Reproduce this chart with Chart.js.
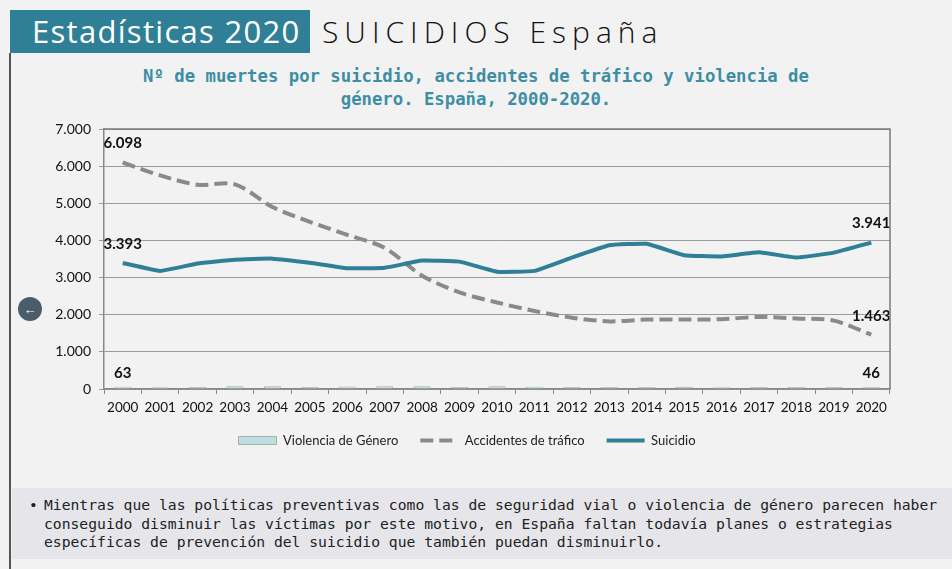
<!DOCTYPE html>
<html>
<head>
<meta charset="UTF-8">
<title>Suicidios España 2020</title>
<script src="https://cdn.jsdelivr.net/npm/chart.js"></script>
<style>
  body {
    margin: 0;
    width: 952px;
    height: 569px;
    background: #f2f2f2;
    position: relative;
    overflow: hidden;
    font-family: "Open Sans", sans-serif;
  }
  .frame {
    position: absolute;
    left: 9px;
    top: 53px;
    height: 516px;
    border-left: 2px solid #555;
  }
  .tag {
    position: absolute;
    left: 10px;
    top: 10px;
    width: 300px;
    height: 43px;
    background: #2f7f97;
    color: #fff;
    font-size: 31px;
    letter-spacing: 1.3px;
    line-height: 43px;
    padding-left: 22px;
    box-sizing: border-box;
    white-space: nowrap;
  }
  .head {
    position: absolute;
    left: 322px;
    top: 10px;
    line-height: 43px;
    font-size: 30px;
    font-weight: 300;
    letter-spacing: 6px;
    color: #111;
    white-space: nowrap;
  }
  .title {
    position: absolute;
    left: 0;
    width: 952px;
    top: 65px;
    text-align: center;
    font-family: "DejaVu Sans Mono", monospace;
    font-weight: bold;
    font-size: 17.3px;
    line-height: 23px;
    color: #3d8ea4;
  }
  #wrap {
    position: absolute;
    left: 0;
    top: 110px;
    width: 952px;
    height: 359px;
  }
  .back {
    position: absolute;
    left: 18px;
    top: 297px;
    width: 24px;
    height: 24px;
    border-radius: 50%;
    background: #4b5d6b;
    color: #fff;
    font-size: 13px;
    font-weight: bold;
    line-height: 24px;
    text-align: center;
  }
  .note {
    position: absolute;
    left: 12px;
    top: 488px;
    width: 940px;
    height: 71px;
    background: #e6e6ea;
    font-family: "DejaVu Sans Mono", monospace;
    font-size: 14.7px;
    line-height: 18.5px;
    padding: 8px 0 0 32px;
    box-sizing: border-box;
    color: #222;
  }
  .bul {
    position: absolute;
    left: 17px;
    top: 8px;
  }
</style>
</head>
<body>
<div class="frame"></div>
<div class="tag">Estadísticas 2020</div>
<div class="head">SUICIDIOS España</div>
<div class="title">Nº de muertes por suicidio, accidentes de tráfico y violencia de<br>género. España, 2000-2020.</div>

<div id="wrap"><canvas id="chart" width="952" height="359"></canvas></div>
<div class="back">&#8592;</div>

<div class="note"><span class="bul">•</span>Mientras que las políticas preventivas como las de seguridad vial o violencia de género parecen haber conseguido disminuir las víctimas por este motivo, en España faltan todavía planes o estrategias específicas de prevención del suicidio que también puedan disminuirlo.</div>

<script>
  // Data
  const years = ['2000', '2001', '2002', '2003', '2004', '2005', '2006', '2007', '2008', '2009', '2010',
                 '2011', '2012', '2013', '2014', '2015', '2016', '2017', '2018', '2019', '2020'];
  const violencia = [63, 50, 54, 71, 72, 57, 69, 71, 76, 56, 73, 62, 52, 54, 55, 60, 49, 51, 51, 56, 46];
  const accidentes = [6098, 5750, 5500, 5510, 4900, 4500, 4150, 3800, 3050, 2600, 2330,
                      2100, 1920, 1820, 1870, 1870, 1880, 1940, 1900, 1840, 1463];
  const suicidio = [3393, 3180, 3380, 3480, 3510, 3400, 3250, 3265, 3457, 3429, 3158,
                    3180, 3539, 3870, 3910, 3602, 3569, 3679, 3539, 3671, 3941];
  const yMax = 7000;
  const yStep = 1000;

  // labelled points: dataset index and category index
  const marked = [[0, 0], [0, 20], [1, 0], [1, 20], [2, 0], [2, 20]];

  function fmt(v) {
    return String(v).replace(/\B(?=(\d{3})+(?!\d))/g, '.');
  }

  const pointLabels = {
    id: 'pointLabels',
    afterDatasetsDraw(chart) {
      const ctx = chart.ctx;
      ctx.save();
      ctx.font = 'bold 15px Lato';
      ctx.fillStyle = '#111';
      ctx.textAlign = 'center';
      ctx.textBaseline = 'middle';
      marked.forEach(([d, i]) => {
        const el = chart.getDatasetMeta(d).data[i];
        const off = d === 0 ? 14 : 19;
        ctx.fillText(fmt(chart.data.datasets[d].data[i]), el.x, el.y - off);
      });
      ctx.restore();
    }
  };

  const plotBorder = {
    id: 'plotBorder',
    afterDraw(chart) {
      const a = chart.chartArea;
      const ctx = chart.ctx;
      ctx.save();
      ctx.strokeStyle = '#7a7a7a';
      ctx.lineWidth = 1.5;
      ctx.beginPath();
      ctx.moveTo(a.left, a.top);
      ctx.lineTo(a.right, a.top);
      ctx.lineTo(a.right, a.bottom);
      ctx.stroke();
      ctx.restore();
    }
  };

  const styles = ['rect', 'line', 'line'];

  new Chart(document.getElementById('chart'), {
    type: 'bar',
    data: {
      labels: years,
      datasets: [
        {
          label: 'Violencia de Género',
          data: violencia,
          backgroundColor: '#bcdde5',
          borderColor: '#a7b39d',
          borderWidth: 1,
          barPercentage: 0.45,
          categoryPercentage: 1,
          order: 3
        },
        {
          type: 'line',
          label: 'Accidentes de tráfico',
          data: accidentes,
          borderColor: '#8a8a8a',
          backgroundColor: '#8a8a8a',
          borderWidth: 4,
          borderDash: [13, 6],
          pointRadius: 0,
          tension: 0.3,
          order: 2
        },
        {
          type: 'line',
          label: 'Suicidio',
          data: suicidio,
          borderColor: '#2f7f96',
          backgroundColor: '#2f7f96',
          borderWidth: 4,
          pointRadius: 0,
          tension: 0.1,
          order: 1
        }
      ]
    },
    options: {
      responsive: false,
      animation: false,
      layout: { padding: { left: 44, right: 62, top: 19, bottom: 12 } },
      plugins: {
        tooltip: { enabled: false },
        legend: {
          position: 'bottom',
          labels: {
            usePointStyle: true,
            pointStyleWidth: 38,
            boxHeight: 8,
            padding: 22,
            color: '#222',
            font: { family: 'Lato', size: 13 },
            sort: (a, b) => a.datasetIndex - b.datasetIndex,
            generateLabels(chart) {
              const items = Chart.defaults.plugins.legend.labels.generateLabels(chart);
              items.forEach(it => {
                const ds = chart.data.datasets[it.datasetIndex];
                it.pointStyle = styles[it.datasetIndex];
                it.lineDash = ds.borderDash || [];
                it.lineWidth = it.datasetIndex === 0 ? 1 : 4;
                it.strokeStyle = ds.borderColor;
                it.fillStyle = ds.backgroundColor;
              });
              return items;
            }
          }
        }
      },
      scales: {
        x: {
          grid: { display: true, offset: true, drawOnChartArea: false, tickLength: 5, color: '#888' },
          border: { color: '#888', width: 1.5 },
          ticks: { color: '#111', padding: 6, font: { family: 'Lato', size: 13.5 }, maxRotation: 0, autoSkip: false },
          afterFit(s) { s.height = 23; }
        },
        y: {
          min: 0,
          max: yMax,
          ticks: { stepSize: yStep, color: '#111', padding: 8, font: { family: 'Lato', size: 14 }, callback: v => fmt(v) },
          grid: { color: '#9a9a9a', lineWidth: 1, tickLength: 5 },
          border: { color: '#888', width: 1.5 },
          afterFit(s) { s.width = 60; }
        }
      }
    },
    plugins: [pointLabels, plotBorder]
  });
</script>
</body>
</html>
